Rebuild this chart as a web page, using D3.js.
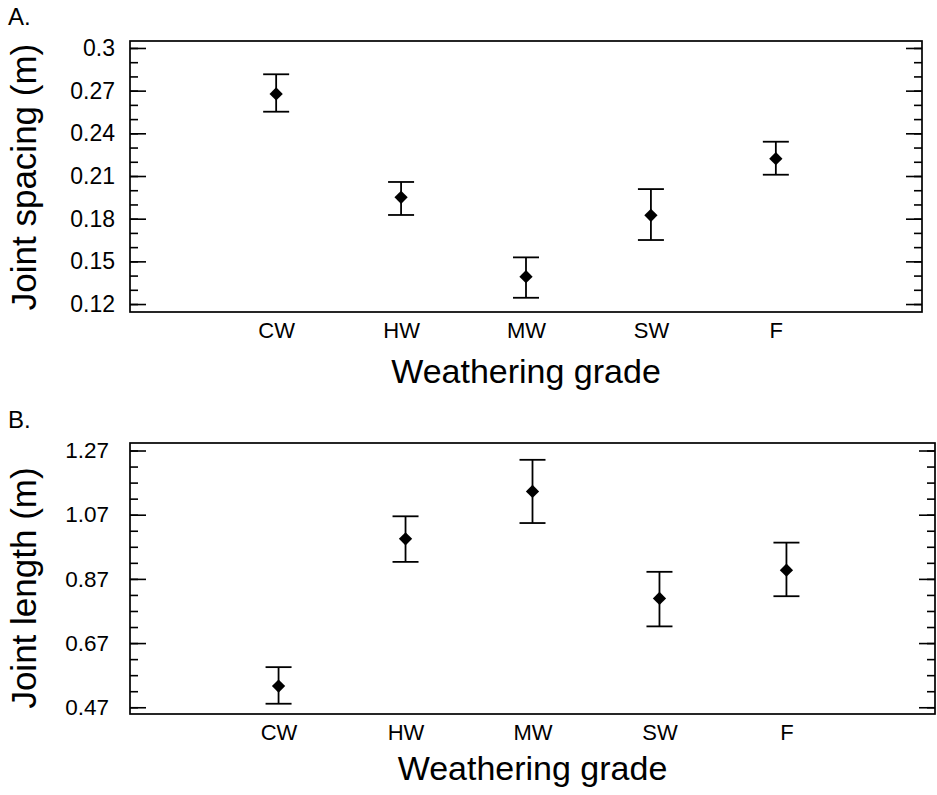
<!DOCTYPE html>
<html>
<head>
<meta charset="utf-8">
<script src="https://cdn.jsdelivr.net/npm/d3@7"></script>
<style>
    body { margin: 0; background: #fff; }
    svg text { font-family: "Liberation Sans", Arial, Helvetica, sans-serif; fill: #000; }
</style>
</head>
<body>
<svg id="chart" width="937" height="795"></svg>
<script>
// weathering grades on the x axis
const grades = ["CW", "HW", "MW", "SW", "F"];

// panel A - joint spacing (m): mean and error bar ends
const spacingMean = [0.2677, 0.1950, 0.1392, 0.1824, 0.2222];
const spacingHigh = [0.2815, 0.2058, 0.1528, 0.2008, 0.2341];
const spacingLow = [0.2552, 0.1826, 0.1244, 0.1650, 0.2109];
const spacingTicks = [0.12, 0.15, 0.18, 0.21, 0.24, 0.27, 0.3];

// panel B - joint length (m)
const lengthMean = [0.536, 0.995, 1.1425, 0.809, 0.897];
const lengthHigh = [0.595, 1.065, 1.241, 0.892, 0.983];
const lengthLow = [0.481, 0.923, 1.044, 0.722, 0.816];
const lengthTicks = [0.47, 0.67, 0.87, 1.07, 1.27];

const svg = d3.select("#chart");

function drawPanel(props) {
    const left = props.left, right = props.right, top = props.top, bottom = props.bottom;
    const g = svg.append("g");

    const x = d3.scalePoint().domain(grades).range([left, right]).padding(1.17);
    const y = d3.scaleLinear().domain(props.domain).range([bottom, top]);

    // minor ticks, both sides, pointing inwards
    const minor = d3.range(props.ticks[0], props.ticks[props.ticks.length - 1] + props.minorStep / 2, props.minorStep);
    g.append("g").attr("transform", "translate(" + left + ",0)")
        .call(d3.axisLeft(y).tickValues(minor).tickSize(-8).tickFormat(""));
    g.append("g").attr("transform", "translate(" + right + ",0)")
        .call(d3.axisRight(y).tickValues(minor).tickSize(-8).tickFormat(""));

    // major ticks with labels on the left
    g.append("g").attr("class", "y-axis").attr("transform", "translate(" + left + ",0)")
        .call(d3.axisLeft(y).tickValues(props.ticks).tickSize(-16).tickPadding(props.labelGap).tickFormat(d => String(+d.toFixed(2))));
    g.append("g").attr("transform", "translate(" + right + ",0)")
        .call(d3.axisRight(y).tickValues(props.ticks).tickSize(-16).tickFormat(""));

    // category labels, no ticks
    g.append("g").attr("class", "x-axis").attr("transform", "translate(0," + bottom + ")")
        .call(d3.axisBottom(x).tickSize(0).tickPadding(10.5));

    g.selectAll(".domain").remove();
    g.selectAll(".tick line").attr("stroke", "#000").attr("stroke-width", 1.6);
    g.selectAll(".y-axis text").style("font-size", props.labelSize + "px").attr("fill", "#000");
    g.selectAll(".x-axis text").style("font-size", "22px").attr("fill", "#000");

    // frame
    g.append("rect").attr("x", left).attr("y", top).attr("width", right - left).attr("height", bottom - top)
        .attr("fill", "none").attr("stroke", "#000").attr("stroke-width", 1.7);

    // error bars
    const data = grades.map((d, i) => ({ grade: d, mean: props.mean[i], lo: props.low[i], hi: props.high[i] }));
    const cap = 13;
    const bars = g.append("g").attr("stroke", "#000").attr("stroke-width", 1.8);
    bars.selectAll(".stem").data(data).enter().append("line")
        .attr("x1", d => x(d.grade)).attr("x2", d => x(d.grade)).attr("y1", d => y(d.lo)).attr("y2", d => y(d.hi));
    bars.selectAll(".cap-hi").data(data).enter().append("line")
        .attr("x1", d => x(d.grade) - cap).attr("x2", d => x(d.grade) + cap).attr("y1", d => y(d.hi)).attr("y2", d => y(d.hi));
    bars.selectAll(".cap-lo").data(data).enter().append("line")
        .attr("x1", d => x(d.grade) - cap).attr("x2", d => x(d.grade) + cap).attr("y1", d => y(d.lo)).attr("y2", d => y(d.lo));

    // diamond markers
    g.selectAll(".marker").data(data).enter().append("path")
        .attr("d", d3.symbol().type(d3.symbolSquare).size(88))
        .attr("transform", d => "translate(" + x(d.grade) + "," + y(d.mean) + ") rotate(45)")
        .attr("fill", "#000");

    // titles
    g.append("text").attr("x", 8).attr("y", props.letterY).style("font-size", "24px").text(props.letter);
    g.append("text").attr("text-anchor", "middle").attr("x", (left + right) / 2).attr("y", bottom + props.xTitleGap)
        .style("font-size", "34px").text("Weathering grade");
    g.append("text").attr("text-anchor", "middle").attr("transform", "rotate(-90)")
        .attr("x", -props.yTitleCenter).attr("y", 36).style("font-size", "35px").text(props.yTitle);
}

drawPanel({
    left: 130, right: 922, top: 41, bottom: 312,
    domain: [0.1144, 0.3049], ticks: spacingTicks, minorStep: 0.01, labelGap: 15, labelSize: 23,
    mean: spacingMean, low: spacingLow, high: spacingHigh,
    letter: "A.", letterY: 25, xTitleGap: 71, yTitle: "Joint spacing (m)", yTitleCenter: 177
});

drawPanel({
    left: 130, right: 935, top: 443, bottom: 714,
    domain: [0.449, 1.2934], ticks: lengthTicks, minorStep: 0.05, labelGap: 21, labelSize: 22.5,
    mean: lengthMean, low: lengthLow, high: lengthHigh,
    letter: "B.", letterY: 428, xTitleGap: 66, yTitle: "Joint length (m)", yTitleCenter: 588
});
</script>
</body>
</html>
